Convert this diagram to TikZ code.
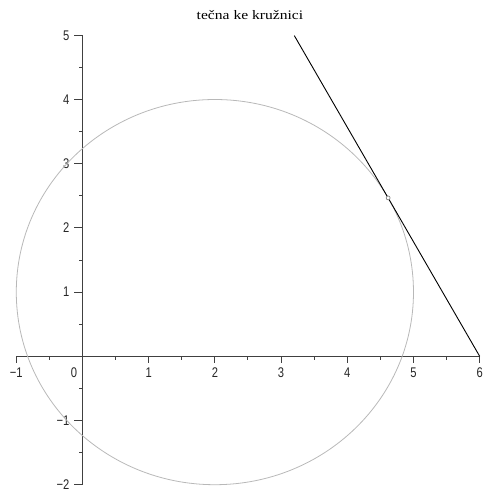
\documentclass[tikz,border=0pt]{standalone}
\usepackage{fontspec}
\newfontfamily\titulfont[FakeStretch=1.2]{Liberation Serif}
\newfontfamily\popisfont[FakeStretch=0.8]{Liberation Sans}
\usetikzlibrary{positioning,calc}
\tikzset{
    osa/.style={
        draw=black!75,            % osy tmavě šedé
        line width=1.1pt
    },
    znacka/.style={
        draw=black!75,
        line width=1pt
    },
    popis/.style={
        font=\popisfont\fontsize{14}{14}\selectfont,
        text=black!85,
        inner sep=0pt
    },
    kruznice/.style={
        draw=black!28,            % kružnice světle šedá
        line width=0.8pt
    },
    tecna/.style={
        draw=black,
        line width=0.9pt
    },
    bod/.style={
        circle,
        draw=black!55,
        fill=white,
        line width=0.6pt,
        minimum size=4pt,
        inner sep=0pt
    },
    titul/.style={
        font=\titulfont\fontsize{13}{13}\selectfont,
        inner sep=0pt
    }
}

\begin{document}
\begin{tikzpicture}[x=66.2pt, y=64.2pt]
    \useasboundingbox (-1.246,-2.098) rectangle (6.065,5.55);
    % osy
    \coordinate (xmin) at (-1,0);
    \coordinate (xmax) at (6,0);
    \coordinate (ymin) at (0,-2);
    \coordinate (ymax) at (0,5);
    \draw[osa] (xmin) -- (xmax);
    \draw[osa] (ymin) -- (ymax);
    % značky na osách
    \foreach \i in {-1,...,6}
        \draw[znacka] (\i,0) -- ++(0,-7pt);
    \foreach \i in {-0.5,0.5,...,5.5}
        \draw[znacka] (\i,0) -- ++(0,-3.5pt);
    \foreach \j in {-2,...,5}
        \draw[znacka] (0,\j) -- ++(-8.5pt,0);
    \foreach \j in {-1.5,-0.5,...,4.5}
        \draw[znacka] (0,\j) -- ++(-3.5pt,0);
    % popisky
    \foreach \i/\t in {-1/−1,1/1,2/2,3/3,4/4,5/5,6/6}
        \node[popis] (px\i) at ($(\i,0)+(0,-16pt)$) {\t};
    \node[popis] (px0) at ($(0,0)+(-8.5pt,-16pt)$) {0};
    \foreach \j/\t in {-2/−2,-1/−1,1/1,2/2,3/3,4/4,5/5}
        \node[popis, anchor=east] (py\j) at ($(0,\j)+(-13pt,0)$) {\t};
    % kružnice a tečna
    \coordinate (stred) at (2,1);
    \draw[kruznice] (stred) ellipse [x radius=3, y radius=3];
    \coordinate (tA) at (3.2,4.995);
    \coordinate (tB) at (6,0);
    \draw[tecna] (tA) -- (tB);
    \node[bod] (dotyk) at (4.617,2.467) {};
    \node[titul] (nadpis) at (2.53,5.31) {tečna ke kružnici};
\end{tikzpicture}
\end{document}
